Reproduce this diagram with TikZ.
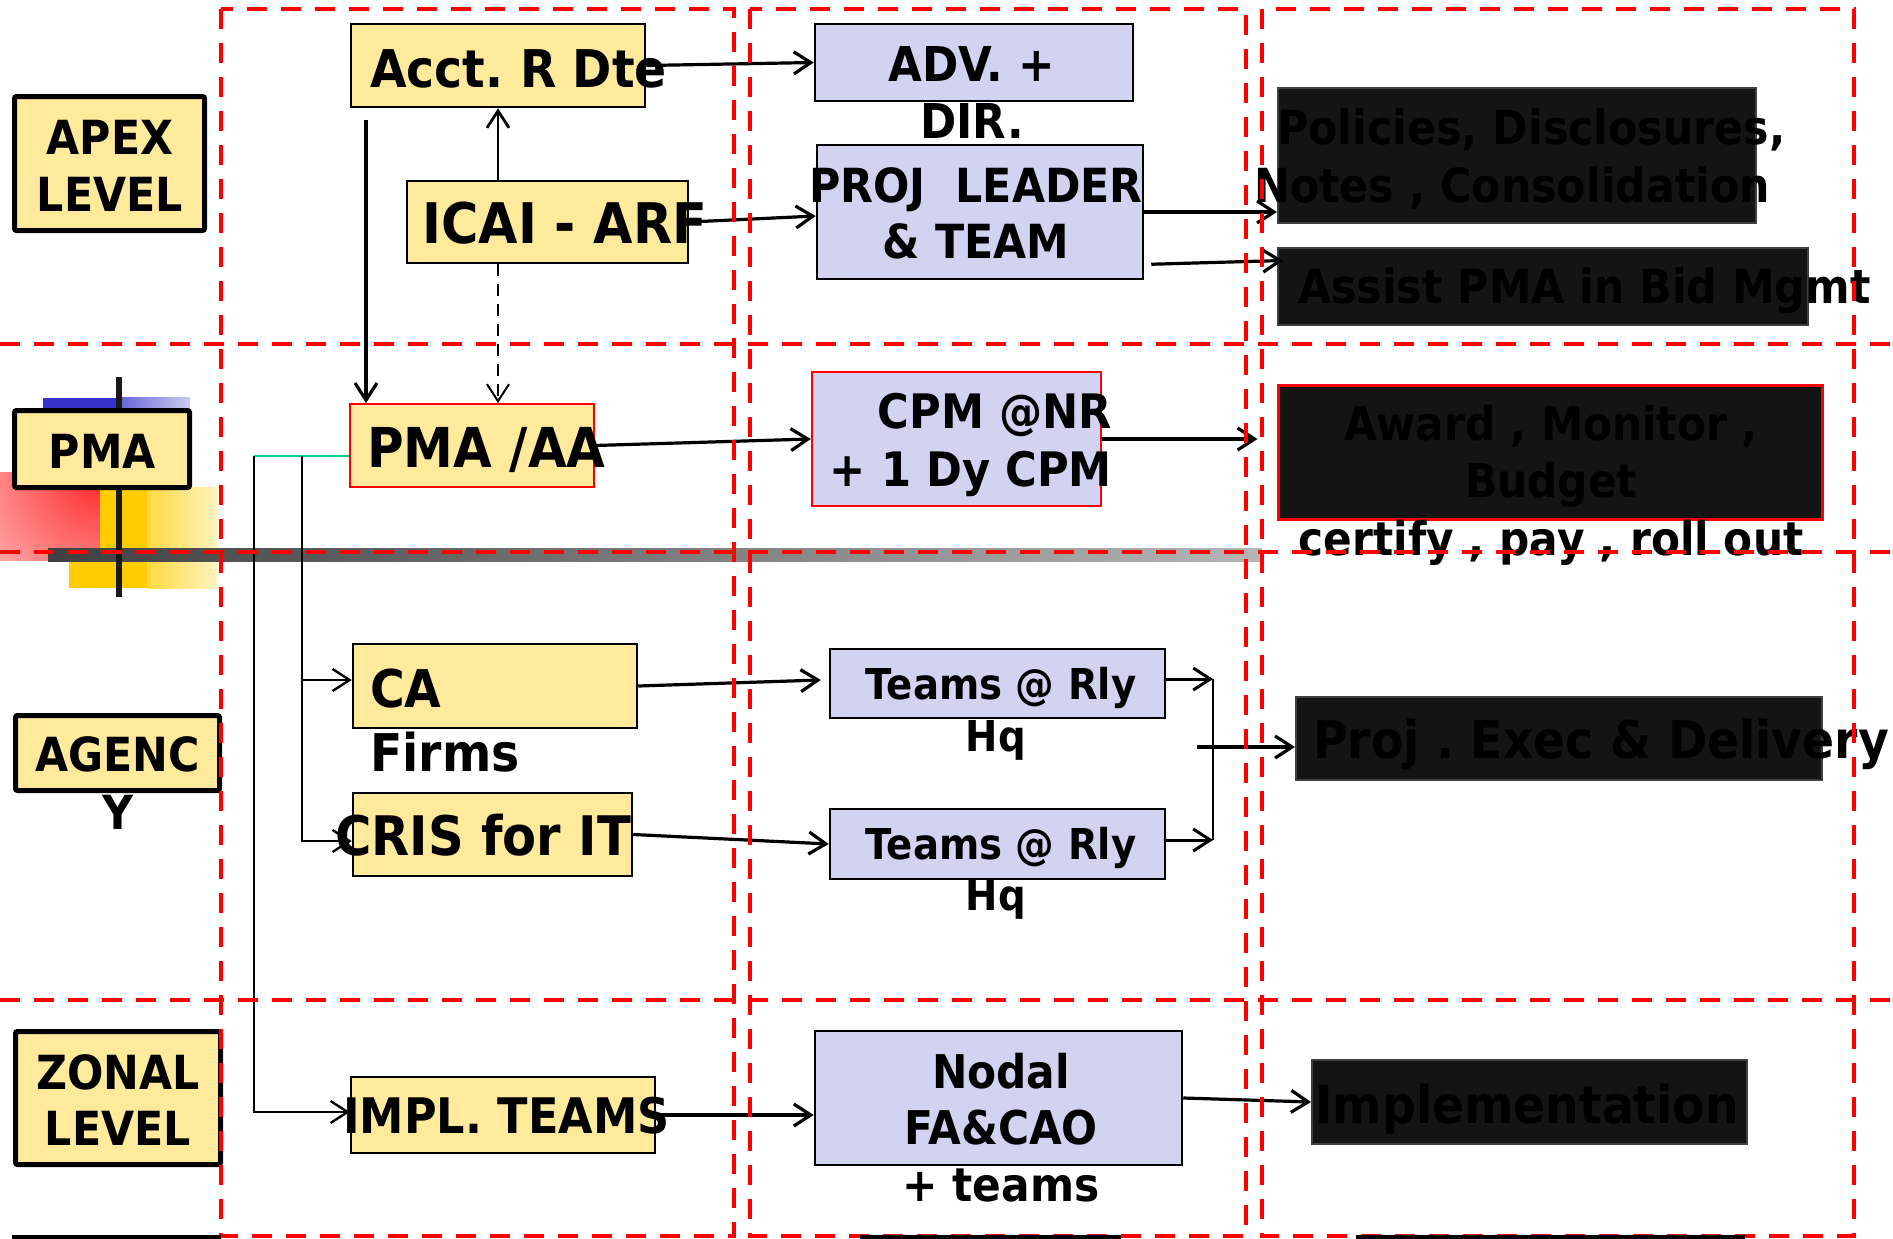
\documentclass[tikz,border=0pt]{standalone}
\usepackage{fontspec}
\setmainfont{DejaVu Sans}[FakeStretch=0.91]
\usetikzlibrary{arrows.meta,calc,fit}
\frenchspacing

\definecolor{boxyellow}{HTML}{FEEA9A}
\definecolor{boxlav}{HTML}{D1D3F0}
\definecolor{boxdark}{HTML}{141414}
\definecolor{gold}{HTML}{FFCC00}
\definecolor{ornblue}{HTML}{3333CC}
\definecolor{linkteal}{HTML}{00CC99}

\pgfdeclarehorizontalshading{barfade}{100bp}{color(0bp)=(black!88); color(17bp)=(black!82); color(50bp)=(black!52); color(100bp)=(black!6)}
\pgfdeclarehorizontalshading{goldfade}{100bp}{color(0bp)=(gold); color(100bp)=(white)}
\pgfdeclarehorizontalshading{bluefade}{100bp}{color(0bp)=(ornblue); color(100bp)=(white)}

\begin{document}
\begin{tikzpicture}[x=1pt,y=-1pt,
  ybox/.style={draw=black, line width=2.5pt, fill=boxyellow, inner sep=0pt},
  lvbox/.style={ybox, line width=5pt, rounded corners=2pt},
  lbox/.style={draw=black, line width=2.5pt, fill=boxlav, inner sep=0pt},
  dbox/.style={draw=black!75, line width=2pt, fill=boxdark, inner sep=0pt},
  tx/.style 2 args={inner sep=0pt, text=black, font=\bfseries\fontsize{#1}{#2}\selectfont},
  arr/.style={draw=black, line width=3.2pt, -{Straight Barb[length=17pt,width=22pt]}},
  thinarr/.style={draw=black, line width=2.4pt, -{Straight Barb[length=17pt,width=22pt]}},
  thinline/.style={draw=black, line width=2pt},
  frame/.style={draw=red, line width=4.5pt, dash pattern=on 20pt off 14pt},
]
\useasboundingbox (0,0) rectangle (1893,1239);

% ---- ornament behind the PMA level label ----
\begin{scope}
  \clip (0,472) rectangle (100,560);
  \shade[inner color=red!85, outer color=white] (100,472) circle (230);
\end{scope}
\fill[gold] (100,489) rectangle (148,553);
\fill[gold] (69,553) rectangle (148,588);
\shade[shading=goldfade] (147,487) rectangle (217,588);
\fill[ornblue] (43,398) rectangle (117,410);
\shade[shading=bluefade] (120,397) rectangle (190,410);
\shade[shading=barfade] (48,548) rectangle (1262,561);
\draw[line width=6pt, black!90] (119,377) -- (119,597);

% ---- level labels ----
\node[lvbox, fit={(14.5,96.5)(204.5,230.5)}] (apex) {};
\node[lvbox, fit={(14.5,410.5)(189.5,487.5)}] (pma) {};
\node[lvbox, fit={(15.5,715.5)(219.5,790.5)}] (agency) {};
\node[lvbox, fit={(15.5,1031.5)(220.5,1164.5)}] (zonal) {};
\node[tx={47}{57}, align=center, anchor=north] (apex-t) at (110,114.1) {\strut APEX\\\strut LEVEL};
\node[tx={47}{57}, anchor=base] (pma-t) at (102.5,468) {PMA};
\node[tx={47}{58}, align=center, anchor=north] (agency-t) at (117.5,730.4) {\strut AGENC\\\strut Y};
\node[tx={47}{56}, align=center, anchor=north] (zonal-t) at (118,1049.8) {\strut ZONAL\\\strut LEVEL};

% ---- first column ----
\node[ybox, fit={(351,24)(645,107)}] (acct) {};
\node[ybox, fit={(407,181)(688,263)}] (icai) {};
\node[ybox, draw=red, line width=2pt, fit={(350,404)(594,487)}] (pmaaa) {};
\node[ybox, fit={(353,644)(637,728)}] (ca) {};
\node[ybox, fit={(353,793)(632,876)}] (cris) {};
\node[ybox, fit={(351,1077)(655,1153)}] (impl) {};
\node[tx={52}{60}, anchor=base west] (acct-t) at (370,88) {Acct. R Dte};
\node[tx={56}{64}, anchor=base west] (icai-t) at (422,243) {ICAI - ARF};
\node[tx={55}{64}, anchor=base west] (pmaaa-t) at (367,467) {PMA /AA};
\node[tx={52}{64}, align=left, anchor=north west] (ca-t) at (370,662.2) {\strut CA\\\strut Firms};
\node[tx={54.5}{64}, anchor=base west] (cris-t) at (335,855) {CRIS for IT};
\node[tx={49}{57}, anchor=base west] (impl-t) at (343,1133) {IMPL. TEAMS};

% ---- second column ----
\node[lbox, fit={(815,24)(1133,101)}] (adv) {};
\node[lbox, fit={(817,145)(1143,279)}] (proj) {};
\node[lbox, draw=red, fit={(812,372)(1101,506)}] (cpm) {};
\node[lbox, fit={(830,649)(1165,718)}] (teams1) {};
\node[lbox, fit={(830,809)(1165,879)}] (teams2) {};
\node[lbox, fit={(815,1031)(1182,1165)}] (nodal) {};
\node[tx={48}{57}, align=center, anchor=north] (adv-t) at (972,41.1) {\strut ADV. +\\\strut DIR.};
\node[tx={47}{56}, align=center, anchor=north] (proj-t) at (976,162.8) {\strut PROJ\ \ LEADER\\\strut \&\ TEAM};
\node[tx={47.5}{58}, align=right, anchor=north east] (cpm-t) at (1112,387.4) {\strut CPM @NR\\\strut + 1 Dy CPM};
\node[tx={42.5}{52}, align=center, anchor=north] (teams1-t) at (1001,662.6) {\strut Teams @ Rly\\\strut Hq\hspace*{10pt}};
\node[tx={42.5}{51}, align=center, anchor=north] (teams2-t) at (1001,823.3) {\strut Teams @ Rly\\\strut Hq\hspace*{10pt}};
\node[tx={46.5}{56.5}, align=center, anchor=north] (nodal-t) at (1001,1048.45) {\strut Nodal\\\strut FA\&CAO\\\strut + teams};

% ---- third column ----
\node[dbox, fit={(1278,88)(1756,223)}] (policies) {};
\node[dbox, fit={(1278,248)(1808,325)}] (assist) {};
\node[dbox, draw=red, line width=3pt, fit={(1278,385)(1822,519)}] (award) {};
\node[dbox, fit={(1296,697)(1822,780)}] (projexec) {};
\node[dbox, fit={(1312,1060)(1747,1144)}] (implementation) {};
\node[tx={47}{58}, align=left, anchor=north west] (policies-t) at (1277,103.4) {\strut Policies, Disclosures,\\\hspace*{-23pt}\strut Notes , Consolidation};
\node[tx={47}{57}, anchor=base west] (assist-t) at (1298,303) {Assist PMA in Bid Mgmt};
\node[tx={46.5}{57.5}, align=center, anchor=north] (award-t) at (1551,399.75) {\strut Award , Monitor ,\\\strut Budget\\\strut certify , pay , roll out};
\node[tx={52}{62}, anchor=base west] (projexec-t) at (1313,758) {Proj . Exec \& Delivery};
\node[tx={52}{62}, anchor=base west] (implementation-t) at (1315,1123) {Implementation};

% ---- connectors ----
\coordinate (acctdrop) at (366,120);
\coordinate (tapA) at (254,456);
\coordinate (tapB) at (302,456);
\coordinate (busT) at (1213,679);
\coordinate (busB) at (1213,840);
\coordinate (busout) at (1197,747);

\draw[arr] (acct.east) -- (adv.west);
\draw[arr] (icai.east) -- ([yshift=-4pt]proj.west);
\draw[thinarr, line width=2.8pt] (icai.north -| acct.south) -- (acct.south);
\draw[thinarr, line width=2pt, dash pattern=on 12pt off 8pt] (icai.south -| acct.south) -- (pmaaa.north -| acct.south);
\draw[arr] (acctdrop) -- (acctdrop |- pmaaa.north);
\draw[arr] (pmaaa.east) -- (cpm.west);
\draw[arr] (proj.east) -- (proj.east -| policies.west);
\draw[arr] ([shift={(7,-16)}]proj.south east) -- ([shift={(6,-26)}]assist.west);
\draw[arr] (cpm.east) -- ($(cpm.east -| award.west)+(-19,0)$);

\draw[draw=linkteal, line width=2pt] (tapA) -- (tapA -| pmaaa.west);
\draw[thinline] (tapB) -- (tapB |- busB);
\draw[thinarr] (tapA) |- ([yshift=3pt]impl.west);
\draw[thinarr] (tapB) |- ([yshift=6pt]ca.west);
\draw[thinarr] (tapB) |- ([yshift=-6.5pt]cris.west);

\draw[arr] (ca.east) -- ([xshift=-8pt,yshift=3.5pt]teams1.west);
\draw[arr] (cris.east) -- (teams2.west);
\draw[thinarr, line width=3pt] (teams1.east |- busT) -- (busT);
\draw[thinarr, line width=3pt] (teams2.east |- busB) -- (busB);
\draw[thinline] (busT) -- (busB);
\draw[arr] (busout) -- (busout -| projexec.west);

\draw[arr] (impl.east) -- (impl.east -| nodal.west);
\draw[arr] (nodal.east) -- (implementation.west);

% ---- dashed red lanes ----
\draw[frame] (221,9) rectangle (734,1236);
\draw[frame] (750,9) rectangle (1246,1236);
\draw[frame] (1262,9) rectangle (1854,1236);
\draw[frame] (0,344) -- (1893,344);
\draw[frame] (0,552) -- (1893,552);
\draw[frame] (0,1000) -- (1893,1000);

% ---- box tops showing at the bottom edge ----
\fill[black] (12,1235) rectangle (221,1239);
\fill[black] (860,1235) rectangle (1121,1239);
\fill[black] (1356,1235) rectangle (1745,1239);
\end{tikzpicture}
\end{document}
